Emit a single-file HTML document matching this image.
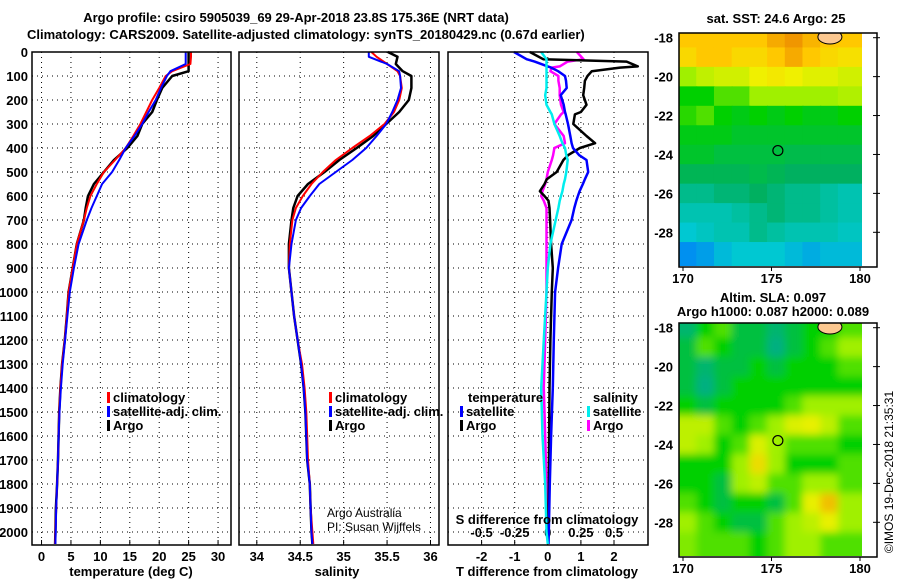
<!DOCTYPE html>
<html><head><meta charset="utf-8"><style>
body{margin:0;background:#fff;}
svg{display:block;font-family:"Liberation Sans",sans-serif;}
.t{font-size:13px;font-weight:bold;}
.tk{font-size:13px;font-weight:bold;}
</style></head><body>
<svg id="s" width="900" height="580" viewBox="0 0 900 580">
<text class="t" x="296" y="22" text-anchor="middle">Argo profile: csiro 5905039_69 29-Apr-2018 23.8S 175.36E (NRT data)</text>
<text class="t" x="27" y="39">Climatology: CARS2009. Satellite-adjusted climatology: synTS_20180429.nc (0.67d earlier)</text>
<g id="g"></g>
</svg>
<script>
// ---- data ----
const depthTicks=[0,100,200,300,400,500,600,700,800,900,1000,1100,1200,1300,1400,1500,1600,1700,1800,1900,2000];
const tempTicks=[0,5,10,15,20,25,30];
const salTicks=[34,34.5,35,35.5,36];
const tdTicks=[-2,-1,0,1,2];
const sdTicks=[-0.5,-0.25,0,0.25,0.5];
const sdTickLabels=["-0.5","-0.25","0","0.25","0.5"];
const D=[0,20,50,80,100,150,200,250,300,350,400,450,500,550,600,650,700,800,900,1000,1100,1200,1300,1400,1500,1600,1700,1800,1900,2000,2050];
const tClim=[25.4,25.4,25.3,22.2,21.1,20.0,18.8,17.8,16.8,15.6,14.3,12.5,10.6,9.4,8.3,7.7,7.2,6.0,5.3,4.6,4.3,3.95,3.5,3.2,3.0,2.9,2.8,2.65,2.5,2.35,2.3];
const tSat=[24.5,24.5,24.5,21.9,21.3,20.3,19.4,18.2,17.1,15.8,14.3,13.2,12.0,10.3,9.4,8.5,7.7,6.3,5.5,4.8,4.4,4.0,3.6,3.3,3.05,2.9,2.8,2.65,2.5,2.4,2.35];
const tArgo=[25.0,25.0,25.0,25.0,22.2,20.5,19.6,18.8,17.1,16.3,14.6,12.3,10.6,8.9,7.9,7.5,7.2,6.0,5.3,4.6,4.3,3.95,3.5,3.2,3.0,2.9,2.8,2.65,2.45,2.35,2.3];
const sClim=[35.32,35.38,35.5,35.62,35.65,35.67,35.64,35.58,35.47,35.30,35.10,34.91,34.76,34.63,34.53,34.45,34.41,34.38,34.37,34.40,34.43,34.47,34.52,34.55,34.57,34.58,34.59,34.61,34.62,34.64,34.65];
const sSat=[35.29,35.29,35.5,35.64,35.65,35.66,35.62,35.56,35.49,35.38,35.26,35.10,34.91,34.72,34.61,34.51,34.45,34.40,34.37,34.40,34.43,34.47,34.51,34.54,34.56,34.57,34.58,34.61,34.62,34.63,34.64];
const sArgo=[35.51,35.62,35.6,35.68,35.78,35.78,35.75,35.64,35.49,35.34,35.15,34.95,34.78,34.59,34.47,34.42,34.40,34.37,34.37,34.40,34.43,34.47,34.51,34.54,34.56,34.57,34.58,34.61,34.62,34.63,34.64];
const DD=[0,30,40,60,65,80,100,120,150,180,220,250,260,300,350,380,400,430,450,500,530,550,580,600,620,650,700,800,900,1000,1200,1400,1600,1800,2000,2050];
const dtSat=[-1.02,-0.64,-0.4,0,0.1,0.31,0.52,0.55,0.57,0.39,0.48,0.52,0.54,0.61,0.68,0.72,0.76,0.95,1.17,1.22,1.12,1.06,0.96,0.91,0.86,0.8,0.72,0.42,0.31,0.22,0.18,0.15,0.1,0.06,0.03,0.02];
const dtArgo=[-0.54,-0.14,2.38,2.72,2.18,1.33,1.2,1.12,1.1,1.07,1.17,1.0,0.82,0.77,1.17,1.43,0.97,0.61,0.47,0.27,-0.03,-0.1,-0.24,-0.1,0.02,0.05,0.07,0.1,0.15,0.12,0.08,0.05,0.04,0.03,0.01,0.0];
const dsArgo=[0.22,0.27,0.15,0.09,0.03,0.02,0.08,0.08,0.09,0.09,0.1,0.12,0.1,0.05,0.12,0.13,0.05,0.04,0.03,0.0,-0.01,-0.02,-0.04,-0.05,-0.03,-0.01,-0.01,-0.01,-0.01,-0.01,-0.02,-0.03,-0.02,-0.01,0,0];
const dsSat=[-0.05,-0.01,-0.01,-0.01,-0.01,-0.01,-0.01,-0.01,-0.01,-0.02,-0.01,0.02,0.03,0.05,0.09,0.11,0.13,0.14,0.15,0.14,0.13,0.12,0.11,0.10,0.09,0.08,0.06,0.02,0,-0.01,-0.03,-0.05,-0.04,-0.02,-0.01,0];
const lonTicks=[170,175,180];
const latTicks=[-18,-20,-22,-24,-26,-28];
const mapLons=[170,171,172,173,174,175,176,177,178,179];
const mapLats=[-18,-19,-20,-21,-22,-23,-24,-25,-26,-27,-28,-29];
const sst=[
[26,26,26,26,26,26.3,26.5,26.2,26,26],
[25.8,26,26,25.8,25.8,26,26.3,26,25.8,25.7],
[25,25.2,25.3,25.3,25.5,25.6,25.5,25.4,25.4,25.3],
[24.6,24.6,24.8,24.8,25,25,25,25,25,25.1],
[24.7,24.8,24.6,24.5,24.6,24.5,24.6,24.5,24.5,24.6],
[24.5,24.5,24.5,24.4,24.4,24.4,24.4,24.4,24.4,24.4],
[24.4,24.4,24.3,24.3,24.3,24.3,24.2,24.2,24.2,24.2],
[24.1,24.1,24.1,24.1,24.2,24.1,24.0,24.0,24.0,24.0],
[23.8,23.8,23.9,23.9,24,23.9,23.8,23.8,23.7,23.6],
[23.6,23.6,23.6,23.7,23.8,23.9,23.8,23.8,23.7,23.6],
[23.4,23.5,23.6,23.6,23.8,23.7,23.6,23.6,23.6,23.5],
[23.0,23.1,23.3,23.4,23.4,23.4,23.3,23.2,23.3,23.3]];
const sla=[
[-0.1,0,0.05,-0.05,-0.05,-0.1,-0.05,0,0,0.05],
[-0.05,0.05,0,-0.05,-0.05,-0.12,-0.05,0,0.05,0.1],
[-0.05,-0.1,-0.05,-0.05,0,-0.05,0,0,0,0.05],
[-0.05,-0.12,-0.05,0,0,0,0,0,0,0],
[0,-0.05,0,0,0,0,0.05,0.1,0.1,0.1],
[0.12,0.12,0.05,0,0.05,0.1,0.14,0.15,0.12,0.05],
[0.12,0.1,0,0.05,0.14,0.1,0.05,0.05,0.05,0],
[0,0,0,0.1,0.17,0.1,0,0,0,0.05],
[0,0,-0.05,0.1,0.12,0.05,0.05,0.1,0.1,0.05],
[0.05,0,-0.05,0,0,-0.05,0.05,0.15,0.2,0.1],
[0.1,0.05,0,-0.05,-0.05,0.05,0.1,0.12,0.15,0.1],
[0.08,0.05,0.05,0.05,0,0.05,0.1,0.1,0.05,0.05]];
const argoLon=175.36, argoLat=-23.8;

// ---- helpers ----
const NS="http://www.w3.org/2000/svg";
const G=document.getElementById('g');
function mk(tag,at,txt,par){const e=document.createElementNS(NS,tag);for(const k in at)e.setAttribute(k,at[k]);if(txt!==undefined)e.textContent=txt;(par||G).appendChild(e);return e;}
const yD=d=>52+d*0.24;
const panels=[
 {x0:32,x1:231,v0:-1.62,v1:32.2},
 {x0:239,x1:439,v0:33.795,v1:36.098},
 {x0:448,x1:648,v0:-3.015,v1:3.027}];
function sx(p,v){return p.x0+(v-p.v0)/(p.v1-p.v0)*(p.x1-p.x0);}
const pT=panels[0],pS=panels[1],pD=panels[2];
const sdx=v=>547.8+v*132.4;
const yTop=52,yBot=545;

// grids
panels.forEach((p,i)=>{
  depthTicks.forEach(d=>{
    const l=mk('line',{x1:p.x0,x2:p.x1,y1:yD(d),y2:yD(d),stroke:'#000','stroke-width':1,'stroke-dasharray':'1,4'});
    
    
  });
});
depthTicks.forEach(d=>{
  const t=mk('text',{x:28,y:yD(d)+5,'text-anchor':'end',class:'tk'},String(d));
  
  
});
function vgrid(p,ticks,labels,ly){
  ticks.forEach((v,i)=>{
    const x=sx(p,v);
    const l=mk('line',{x1:x,x2:x,y1:yTop,y2:yBot,stroke:'#000','stroke-dasharray':'1,4'});
    
    
    mk('line',{x1:x,x2:x,y1:yBot-5,y2:yBot,stroke:'#000'});
    const t=mk('text',{x:x,y:ly,'text-anchor':'middle',class:'tk'},labels[i]);
    
    
  });
}
vgrid(pT,tempTicks,tempTicks.map(String),561);
vgrid(pS,salTicks,salTicks.map(String),561);
vgrid(pD,tdTicks,tdTicks.map(String),561);
sdTicks.forEach((v,i)=>{
  const t=mk('text',{x:sdx(v),y:537,'text-anchor':'middle',class:'tk'},sdTickLabels[i]);
  
  
});

// series
function drawLine(p,vals,depths,col,w,name,fx){
  const pts=vals.map((v,i)=>(fx?fx(v):sx(p,v)).toFixed(1)+','+yD(depths[i]).toFixed(1)).join(' ');
  const e=mk('polyline',{points:pts,fill:'none',stroke:col,'stroke-width':w,'stroke-linejoin':'round'});
  
  
}
drawLine(pT,tArgo,D,'#000',2.5,'temp-argo-line');
drawLine(pT,tClim,D,'#f00',2,'temp-climatology-line');
drawLine(pT,tSat,D,'#00f',2,'temp-satellite-line');
drawLine(pS,sArgo,D,'#000',2.5,'sal-argo-line');
drawLine(pS,sClim,D,'#f00',2,'sal-climatology-line');
drawLine(pS,sSat,D,'#00f',2,'sal-satellite-line');
drawLine(pD,dsArgo,DD,'#f0f',2.5,'sdiff-argo-line',sdx);
drawLine(pD,dtArgo,DD,'#000',2.5,'tdiff-argo-line');
drawLine(pD,dtSat,DD,'#00f',2.5,'tdiff-satellite-line');
drawLine(pD,dsSat,DD,'#0ee',2.5,'sdiff-satellite-line',sdx);

// frames
panels.forEach(p=>{
  const r=mk('rect',{x:p.x0,y:yTop,width:p.x1-p.x0,height:yBot-yTop,fill:'none',stroke:'#000','stroke-width':1.5});
  
  
});

// legends
function leg(x,y,col,label,name){
  mk('rect',{x:x,y:y-10,width:3,height:11,fill:col});
  const t=mk('text',{x:x+6,y:y,class:'tk'},label);
  
  
}
leg(107,402,'#f00','climatology','legend-climatology');
leg(107,416,'#00f','satellite-adj. clim.','legend-satellite');
leg(107,430,'#000','Argo','legend-argo');
leg(329,402,'#f00','climatology','legend-climatology-2');
leg(329,416,'#00f','satellite-adj. clim.','legend-satellite-2');
leg(329,430,'#000','Argo','legend-argo-2');
mk('text',{x:468,y:402,class:'tk'},'temperature');
leg(460,416,'#00f','satellite','legend-tdiff-satellite');
leg(460,430,'#000','Argo','legend-tdiff-argo');
mk('text',{x:593,y:402,class:'tk'},'salinity');
leg(587,416,'#0ee','satellite','legend-sdiff-satellite');
leg(587,430,'#f0f','Argo','legend-sdiff-argo');
mk('text',{x:327,y:517,'font-size':12},'Argo Australia');
mk('text',{x:327,y:531,'font-size':12},'PI: Susan Wijffels');
mk('text',{x:547,y:524,'text-anchor':'middle',class:'tk'},'S difference from climatology');
mk('text',{x:131,y:576,'text-anchor':'middle',class:'tk'},'temperature (deg C)');
mk('text',{x:337,y:576,'text-anchor':'middle',class:'tk'},'salinity');
mk('text',{x:547,y:576,'text-anchor':'middle',class:'tk'},'T difference from climatology');

// maps
function interp(st,v){
  if(v<=st[0][0])return 'rgb('+st[0][1]+')';
  for(let i=1;i<st.length;i++){if(v<=st[i][0]){const fr=(v-st[i-1][0])/(st[i][0]-st[i-1][0]);const c=st[i-1][1].map((a,k)=>Math.round(a+(st[i][1][k]-a)*fr));return 'rgb('+c+')';}}
  return 'rgb('+st[st.length-1][1]+')';
}
function sstCol(v){
  const st=[[23.0,[0,144,240]],[23.4,[0,200,210]],[23.7,[0,192,160]],[24.0,[0,176,96]],[24.3,[0,192,64]],[24.6,[0,208,0]],[25.0,[160,240,0]],[25.5,[240,240,0]],[26.0,[255,200,0]],[26.5,[240,150,0]]];
  return interp(st,v);
}
function slaCol(v){
  const st=[[-0.12,[0,176,128]],[-0.05,[0,192,64]],[0,[0,208,0]],[0.1,[160,240,0]],[0.15,[232,240,0]],[0.2,[240,192,0]]];
  return interp(st,v);
}
const defs=mk('defs',{});
const blurF=mk('filter',{id:'bl',x:'-0.1',y:'-0.1',width:'1.2',height:'1.2'},undefined,defs);
mk('feGaussianBlur',{stdDeviation:'4'},undefined,blurF);
function drawMap(y0,grid,colf,name,blur){
  const lonX=l=>683+(l-170)*17.7;
  const latY=l=>y0+4.7+(-18-l)*19.46;
  const cp=mk('clipPath',{id:'c'+name},undefined,defs);
  mk('rect',{x:679,y:y0,width:183,height:233},undefined,cp);
  const g=mk('g',{'clip-path':'url(#c'+name+')'});
  
  
  const inner=mk('g',blur?{filter:'url(#bl)'}:{},undefined,g);
  mapLats.forEach((la,i)=>mapLons.forEach((lo,j)=>{
    const x=lonX(lo-0.25),y=latY(la+0.5);
    const c=mk('rect',{x:x-(j==0?20:0),y:y-(i==0?20:0),width:17.7+1+(j==0?20:0)+(j==9?20:0),height:19.46+1+(i==0?20:0)+(i==11?20:0),fill:colf(grid[i][j])},undefined,inner);
    
    
  }));
  mk('ellipse',{cx:lonX(178.3),cy:y0+4,rx:12,ry:7,fill:'#fcc890',stroke:'#000','stroke-width':1},undefined,g);
  mk('rect',{x:862,y:y0,width:15,height:234,fill:'#fff'});
  const fr=mk('rect',{x:679,y:y0,width:198,height:234,fill:'none',stroke:'#000','stroke-width':1.5});
  
  
  const ci=mk('circle',{cx:lonX(argoLon),cy:latY(argoLat),r:5,fill:'none',stroke:'#000','stroke-width':1.2});
  
  
  latTicks.forEach(l=>{
    const t=mk('text',{x:673,y:latY(l)+5,'text-anchor':'end',class:'tk'},String(l));
    
    
    mk('line',{x1:873,x2:880,y1:latY(l),y2:latY(l),stroke:'#000'});
  });
  lonTicks.forEach(l=>{
    const t=mk('text',{x:lonX(l),y:y0+250,'text-anchor':'middle',class:'tk'},String(l));
    
    
    mk('line',{x1:lonX(l),x2:lonX(l),y1:y0+234,y2:y0+238,stroke:'#000'});
  });
}
drawMap(33,sst,sstCol,'sst-map',false);
drawMap(323,sla,slaCol,'sla-map',true);
mk('text',{x:776,y:23,'text-anchor':'middle',class:'tk','font-size':12},'sat. SST: 24.6 Argo: 25');
mk('text',{x:773,y:302,'text-anchor':'middle',class:'tk'},'Altim. SLA: 0.097');
mk('text',{x:773,y:316,'text-anchor':'middle',class:'tk'},'Argo h1000: 0.087 h2000: 0.089');
mk('text',{x:893,y:472,'text-anchor':'middle','font-size':12,transform:'rotate(-90 893 472)'},'©IMOS 19-Dec-2018 21:35:31');
</script>
</body></html>
